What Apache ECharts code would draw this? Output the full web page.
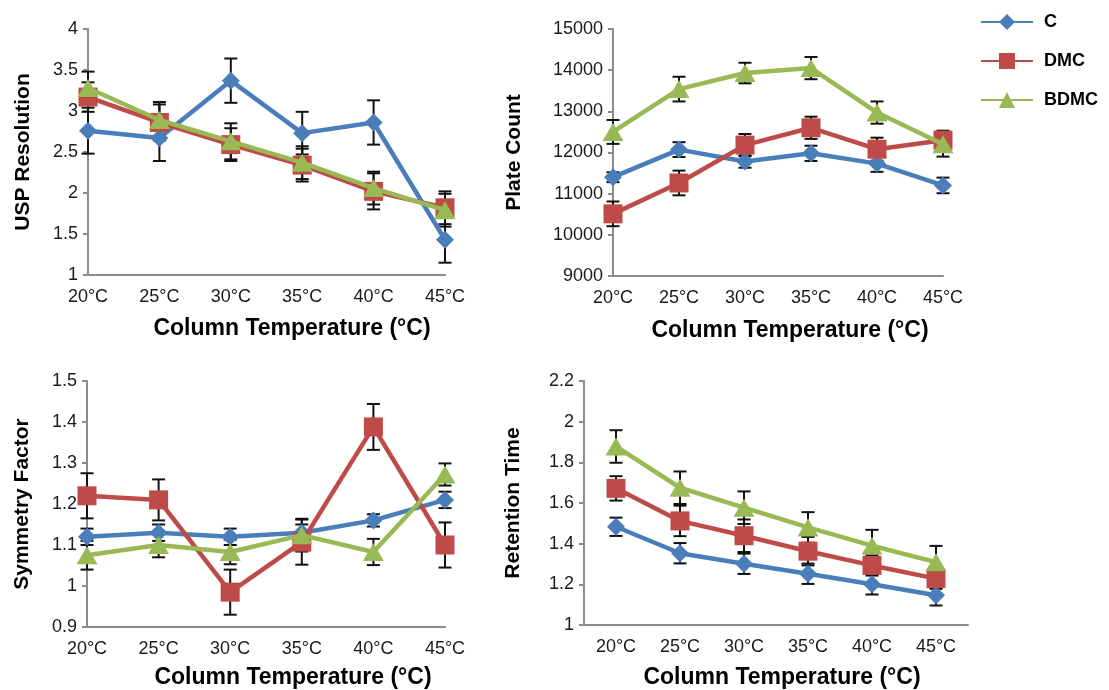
<!DOCTYPE html>
<html>
<head>
<meta charset="utf-8">
<script src="https://cdn.jsdelivr.net/npm/echarts@6/dist/echarts.min.js"></script>
<style>
  html, body { margin: 0; padding: 0; background: #fff; }
  #chart { width: 1109px; height: 690px; }
</style>
</head>
<body>
<div id="chart"></div>
<script>
// categories
const temps = ['20°C', '25°C', '30°C', '35°C', '40°C', '45°C'];
const seriesNames = ['C', 'DMC', 'BDMC'];

// USP Resolution
const uspC = [2.76, 2.67, 3.37, 2.73, 2.86, 1.43];
const uspDMC = [3.17, 2.86, 2.59, 2.34, 2.02, 1.82];
const uspBDMC = [3.28, 2.89, 2.63, 2.37, 2.06, 1.79];
const uspErrC = [0.28, 0.28, 0.27, 0.26, 0.27, 0.28];
const uspErrDMC = [0.18, 0.22, 0.2, 0.2, 0.22, 0.2];
const uspErrBDMC = [0.2, 0.22, 0.22, 0.2, 0.2, 0.2];

// Plate Count
const plateC = [11400, 12070, 11780, 11980, 11730, 11200];
const plateDMC = [10510, 11260, 12180, 12600, 12080, 12300];
const plateBDMC = [12500, 13540, 13930, 14050, 12970, 12200];
const plateErrC = [120, 180, 150, 185, 200, 190];
const plateErrDMC = [300, 300, 270, 270, 280, 230];
const plateErrBDMC = [290, 300, 250, 270, 270, 300];

// Symmetry Factor
const symC = [1.12, 1.13, 1.12, 1.13, 1.16, 1.21];
const symDMC = [1.22, 1.21, 0.985, 1.107, 1.388, 1.10];
const symBDMC = [1.075, 1.10, 1.083, 1.124, 1.083, 1.272];
const symErrC = [0.02, 0.02, 0.02, 0.02, 0.015, 0.02];
const symErrDMC = [0.055, 0.05, 0.055, 0.055, 0.056, 0.055];
const symErrBDMC = [0.035, 0.03, 0.03, 0.04, 0.032, 0.027];

// Retention Time
const rtC = [1.483, 1.353, 1.301, 1.252, 1.20, 1.146];
const rtDMC = [1.672, 1.512, 1.439, 1.363, 1.293, 1.228];
const rtBDMC = [1.878, 1.675, 1.577, 1.48, 1.39, 1.309];
const rtErrC = [0.045, 0.05, 0.05, 0.05, 0.05, 0.05];
const rtErrDMC = [0.06, 0.075, 0.08, 0.07, 0.05, 0.05];
const rtErrBDMC = [0.08, 0.08, 0.08, 0.075, 0.078, 0.08];

const font = 'Liberation Sans, Arial, sans-serif';
const colors = ['#4a7ebb', '#be4b48', '#98b954'];
const symbols = ['diamond', 'rect', 'triangle'];
const symbolSizes = [18, 19, [21, 18]];

// panel layout: grid box, y axis setup, name gaps
const panels = [
  { grid: { left: 88, top: 29, width: 357, height: 246 }, yName: 'USP Resolution', min: 1, max: 4, interval: 0.5,
    yGap: 54, xGap: 42, xPad: 51, gap: false, vals: [uspC, uspDMC, uspBDMC], errs: [uspErrC, uspErrDMC, uspErrBDMC] },
  { grid: { left: 613, top: 29, width: 330, height: 247 }, yName: 'Plate Count', min: 9000, max: 15000, interval: 1000,
    yGap: 88, xGap: 43, xPad: 24, gap: false, vals: [plateC, plateDMC, plateBDMC], errs: [plateErrC, plateErrDMC, plateErrBDMC] },
  { grid: { left: 87, top: 381, width: 358, height: 246 }, yName: 'Symmetry Factor', min: 0.9, max: 1.5, interval: 0.1,
    yGap: 54, xGap: 39, xPad: 54, gap: false, vals: [symC, symDMC, symBDMC], errs: [symErrC, symErrDMC, symErrBDMC] },
  { grid: { left: 584, top: 381, width: 384, height: 246 }, yName: 'Retention Time', min: 1, max: 2.2, interval: 0.2,
    yGap: 60, xGap: 41, xPad: 12, gap: true, vals: [rtC, rtDMC, rtBDMC], errs: [rtErrC, rtErrDMC, rtErrBDMC] }
];

const axisLineStyle = { color: '#8c8c8c', width: 2 };

const grids = [], xAxes = [], yAxes = [], series = [];

panels.forEach((p, k) => {
  grids.push(p.grid);
  xAxes.push({
    type: 'category', gridIndex: k, data: temps, boundaryGap: p.gap,
    name: 'Column Temperature (°C)', nameLocation: 'middle', nameGap: p.xGap,
    nameTextStyle: { fontFamily: font, fontSize: 23, fontWeight: 'bold', color: '#000', padding: [0, 0, 0, p.xPad] },
    axisLine: { lineStyle: axisLineStyle },
    axisTick: { show: false },
    axisLabel: { fontFamily: font, fontSize: 18, color: '#1a1a1a', margin: 13, interval: 0 },
    splitLine: { show: false }
  });
  yAxes.push({
    type: 'value', gridIndex: k, min: p.min, max: p.max, interval: p.interval,
    name: p.yName, nameLocation: 'middle', nameGap: p.yGap, nameRotate: 90,
    nameTextStyle: { fontFamily: font, fontSize: 21, fontWeight: 'bold', color: '#000' },
    axisLine: { show: true, lineStyle: axisLineStyle },
    axisTick: { show: true, length: 5, lineStyle: axisLineStyle },
    axisLabel: { fontFamily: font, fontSize: 18, color: '#1a1a1a', margin: 10, formatter: v => String(+v.toFixed(2)) },
    splitLine: { show: false }
  });

  // error bars under the lines
  p.vals.forEach((vals, s) => {
    series.push({
      type: 'custom', xAxisIndex: k, yAxisIndex: k, z: 1, silent: true,
      encode: { x: 0, y: 1 },
      data: vals.map((v, i) => [i, v, p.errs[s][i]]),
      renderItem: function (params, api) {
        const i = api.value(0), v = api.value(1), e = api.value(2);
        const hi = api.coord([i, v + e]);
        const lo = api.coord([i, v - e]);
        const w = 6.5;
        const st = { stroke: '#111', lineWidth: 2 };
        return {
          type: 'group',
          children: [
            { type: 'line', shape: { x1: hi[0], y1: hi[1], x2: lo[0], y2: lo[1] }, style: st },
            { type: 'line', shape: { x1: hi[0] - w, y1: hi[1], x2: hi[0] + w, y2: hi[1] }, style: st },
            { type: 'line', shape: { x1: lo[0] - w, y1: lo[1], x2: lo[0] + w, y2: lo[1] }, style: st }
          ]
        };
      }
    });
  });

  p.vals.forEach((vals, s) => {
    series.push({
      name: seriesNames[s], type: 'line', xAxisIndex: k, yAxisIndex: k, z: 3 + s,
      data: vals,
      symbol: symbols[s], symbolSize: symbolSizes[s], showAllSymbol: true,
      lineStyle: { color: colors[s], width: 4.5 },
      itemStyle: { color: colors[s], opacity: 1 },
      emphasis: { disabled: true },
      animation: false
    });
  });
});

const chart = echarts.init(document.getElementById('chart'), null, { renderer: 'canvas' });
chart.setOption({
  backgroundColor: '#fff',
  animation: false,
  textStyle: { fontFamily: font },
  legend: {
    data: seriesNames, orient: 'vertical', left: 975, top: 8,
    itemWidth: 52, itemHeight: 20, itemGap: 21,
    textStyle: { fontFamily: font, fontSize: 18, fontWeight: 'bold', color: '#000', padding: [0, 0, 0, 6] }
  },
  grid: grids,
  xAxis: xAxes,
  yAxis: yAxes,
  series: series
});
</script>
</body>
</html>
